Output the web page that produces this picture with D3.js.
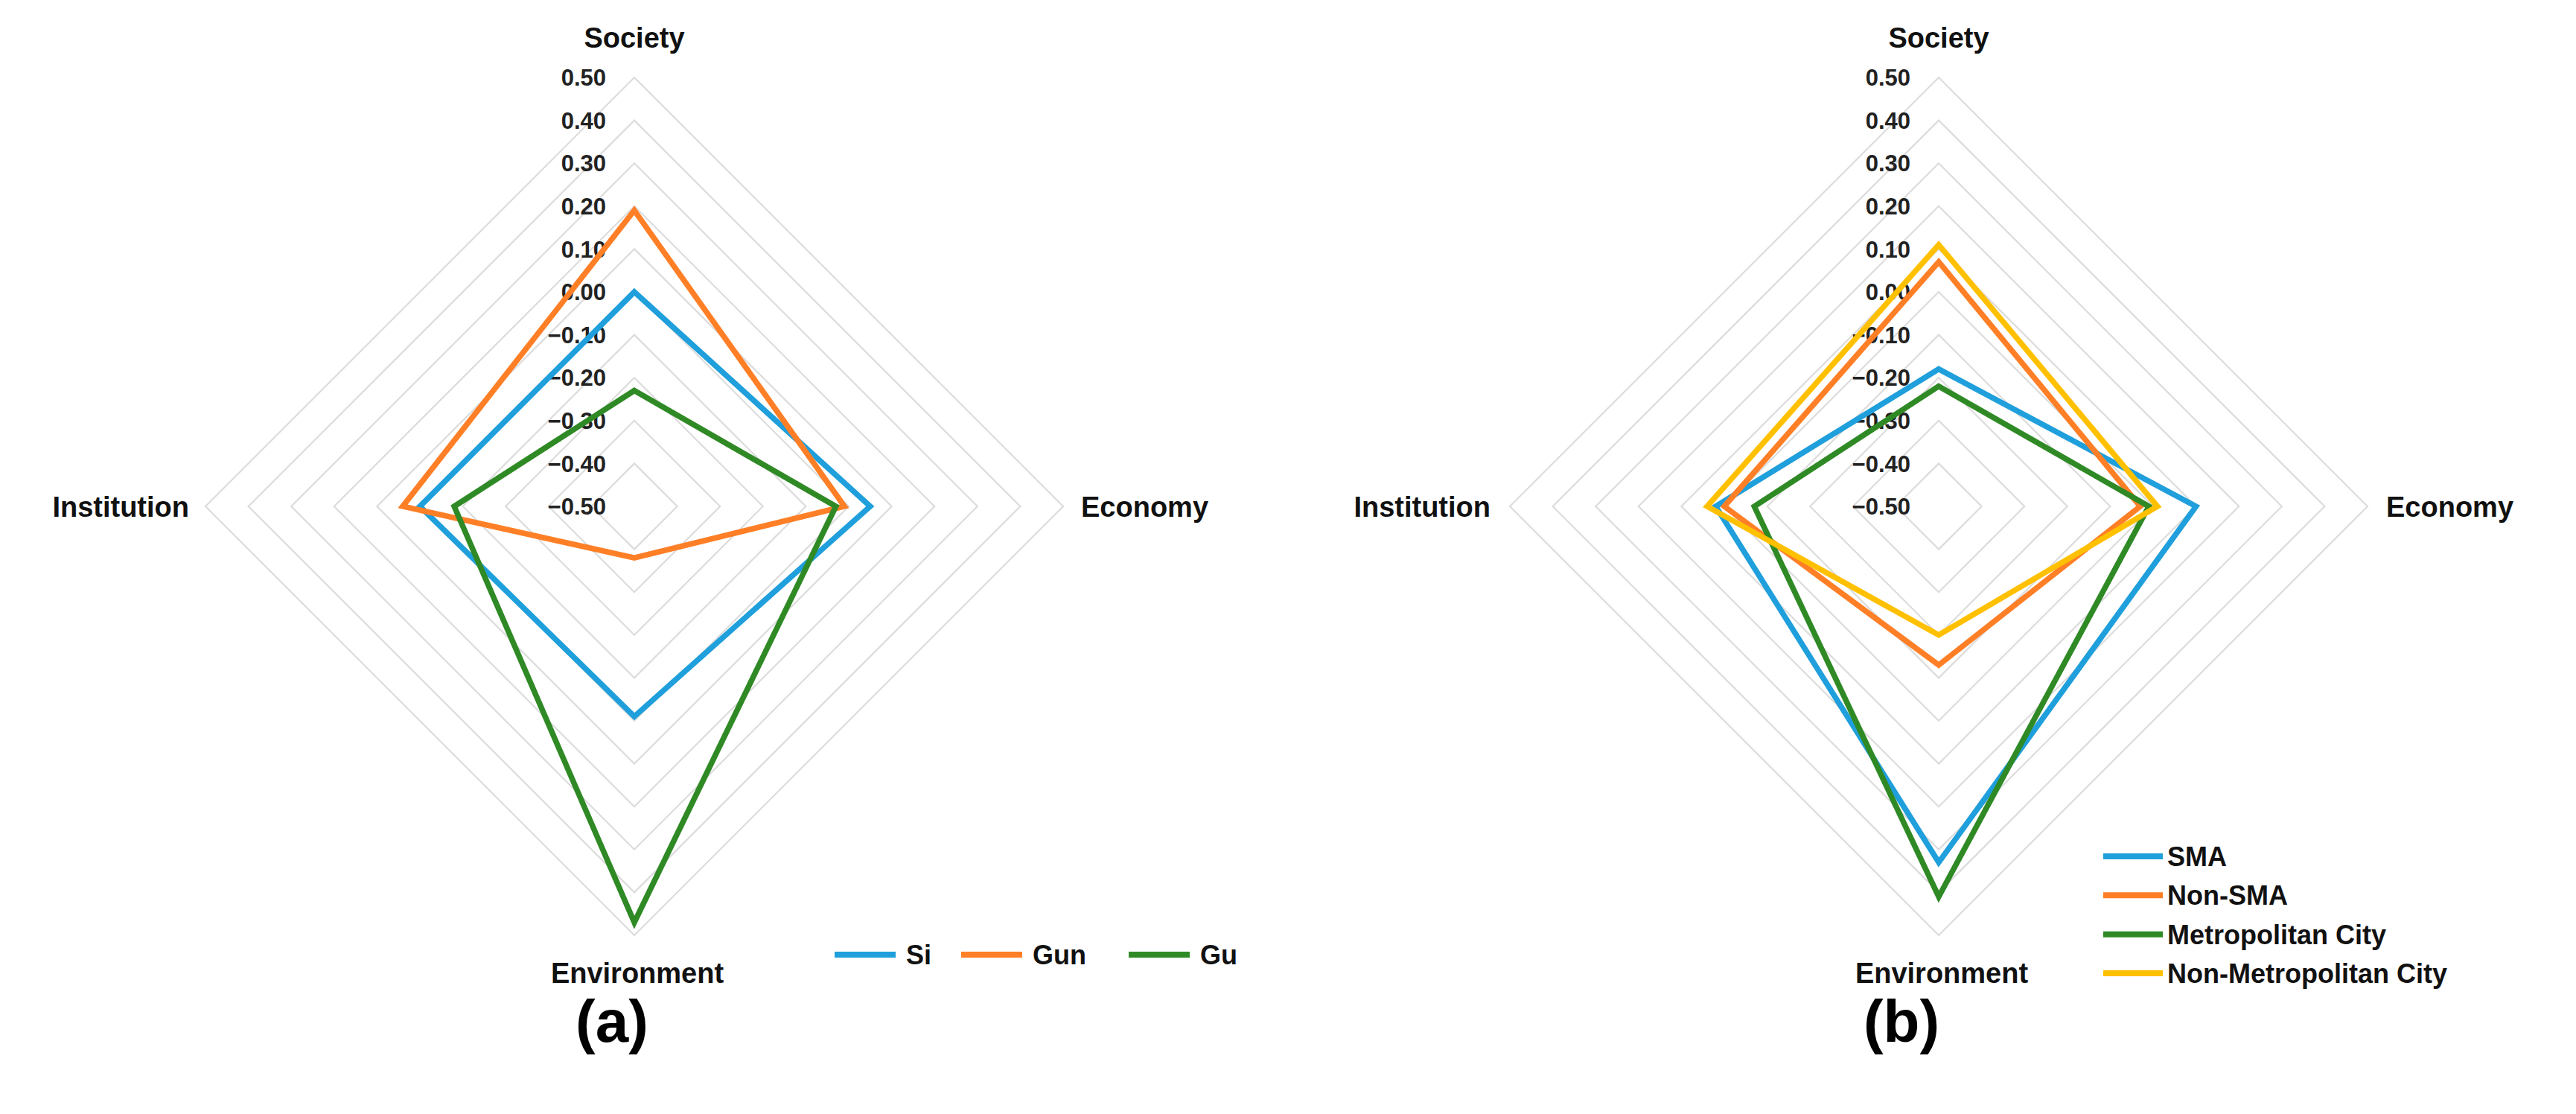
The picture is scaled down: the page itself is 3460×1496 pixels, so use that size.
<!DOCTYPE html>
<html>
<head>
<meta charset="utf-8">
<script src="https://cdn.jsdelivr.net/npm/d3@7"></script>
<style>
  body { margin: 0; background: #fff; }
  text { font-family: Arial, "Liberation Sans", sans-serif; }
</style>
</head>
<body>
<svg id="chart" width="3460" height="1496"></svg>
<script>
// axes go clockwise from the top
var axes = ["Society", "Economy", "Environment", "Institution"];
var ticks = [0.5, 0.4, 0.3, 0.2, 0.1, 0.0, -0.1, -0.2, -0.3, -0.4, -0.5];

// panel (a)
var namesA = ["Si", "Gun", "Gu"];
var si  = [0.00, 0.05, -0.01, 0.00];
var gun = [0.19, -0.01, -0.38, 0.04];
var gu  = [-0.23, -0.03, 0.47, -0.08];

// panel (b)
var namesB = ["SMA", "Non-SMA", "Metropolitan City", "Non-Metropolitan City"];
var sma      = [-0.18, 0.10, 0.33, 0.02];
var nonSma   = [0.07, -0.03, -0.13, 0.00];
var metro    = [-0.22, -0.01, 0.41, -0.07];
var nonMetro = [0.11, 0.01, -0.20, 0.04];

var colors = ["#1f9fdb", "#ff7f27", "#2f8a25", "#ffc000"];

var svg = d3.select("#chart");
var R = 576;
var r = d3.scaleLinear().domain([-0.5, 0.5]).range([0, R]);
var angle = d3.scalePoint().domain(axes).range([0, 2 * Math.PI * 3 / 4]);

function pt(axis, v) {
  var a = angle(axis);
  return [r(v) * Math.sin(a), -r(v) * Math.cos(a)];
}

function radar(cx, cy, series, opts) {
  var g = svg.append("g").attr("transform", "translate(" + cx + "," + cy + ")");

  // grid rings
  g.selectAll(".ring").data(ticks.slice(0, 10)).enter().append("path")
      .attr("class", "ring")
      .attr("d", function(t) { return d3.line()(axes.map(function(a) { return pt(a, t); })) + "Z"; })
      .attr("fill", "none")
      .attr("stroke", "#dcdcdc")
      .attr("stroke-width", 2.2);

  // tick labels
  g.selectAll(".tick").data(ticks).enter().append("text")
      .attr("x", -38)
      .attr("y", function(t) { return -r(t); })
      .attr("dy", "0.36em")
      .attr("text-anchor", "end")
      .attr("font-size", 31)
      .attr("font-weight", "bold")
      .attr("fill", "#222")
      .text(function(t) { return d3.format(".2f")(t); });

  // series
  var line = d3.line().curve(d3.curveLinearClosed);
  g.selectAll(".series").data(series).enter().append("path")
      .attr("d", function(s) { return line(axes.map(function(a, i) { return pt(a, s[i]); })); })
      .attr("fill", "none")
      .attr("stroke", function(s, i) { return colors[i]; })
      .attr("stroke-width", 7.5)
      .attr("stroke-linejoin", "miter");

  // axis labels
  var lab = [
    {t: "Society", x: 0, y: -630, a: "middle"},
    {t: "Economy", x: opts.econX, y: 0, a: "start"},
    {t: "Environment", x: 4, y: 626, a: "middle"},
    {t: "Institution", x: opts.instX, y: 0, a: "end"}
  ];
  g.selectAll(".alab").data(lab).enter().append("text")
      .attr("x", function(d) { return d.x; })
      .attr("y", function(d) { return d.y; })
      .attr("dy", "0.36em")
      .attr("text-anchor", function(d) { return d.a; })
      .attr("font-size", 38)
      .attr("font-weight", "bold")
      .attr("fill", "#111")
      .text(function(d) { return d.t; });

  g.append("text")
      .attr("x", opts.capX)
      .attr("y", 690)
      .attr("dy", "0.36em")
      .attr("text-anchor", "middle")
      .attr("font-family", "'Liberation Serif', 'Times New Roman', serif")
      .attr("font-size", 80)
      .attr("font-weight", "bold")
      .text(opts.cap);
  return g;
}

radar(852, 680, [si, gun, gu], {econX: 600, instX: -598, capX: -30, cap: "(a)"});
radar(2604, 680, [sma, nonSma, metro, nonMetro], {econX: 601, instX: -602, capX: -50, cap: "(b)"});

// legend (a): horizontal
var legA = svg.append("g");
var legAx = [1121, 1291, 1516];
legA.selectAll("line").data(namesA).enter().append("line")
    .attr("x1", function(d, i) { return legAx[i]; })
    .attr("x2", function(d, i) { return legAx[i] + 82; })
    .attr("y1", 1282).attr("y2", 1282)
    .attr("stroke", function(d, i) { return colors[i]; })
    .attr("stroke-width", 8);
legA.selectAll("text").data(namesA).enter().append("text")
    .attr("x", function(d, i) { return legAx[i] + 96; })
    .attr("y", 1282).attr("dy", "0.36em")
    .attr("font-size", 36).attr("font-weight", "bold").attr("fill", "#111")
    .text(function(d) { return d; });

// legend (b): vertical
var legB = svg.append("g");
var legBy = d3.scaleLinear().domain([0, 3]).range([1150, 1307]);
legB.selectAll("line").data(namesB).enter().append("line")
    .attr("x1", 2825).attr("x2", 2905)
    .attr("y1", function(d, i) { return legBy(i); })
    .attr("y2", function(d, i) { return legBy(i); })
    .attr("stroke", function(d, i) { return colors[i]; })
    .attr("stroke-width", 8);
legB.selectAll("text").data(namesB).enter().append("text")
    .attr("x", 2911)
    .attr("y", function(d, i) { return legBy(i); }).attr("dy", "0.36em")
    .attr("font-size", 36).attr("font-weight", "bold").attr("fill", "#111")
    .text(function(d) { return d; });
</script>
</body>
</html>
